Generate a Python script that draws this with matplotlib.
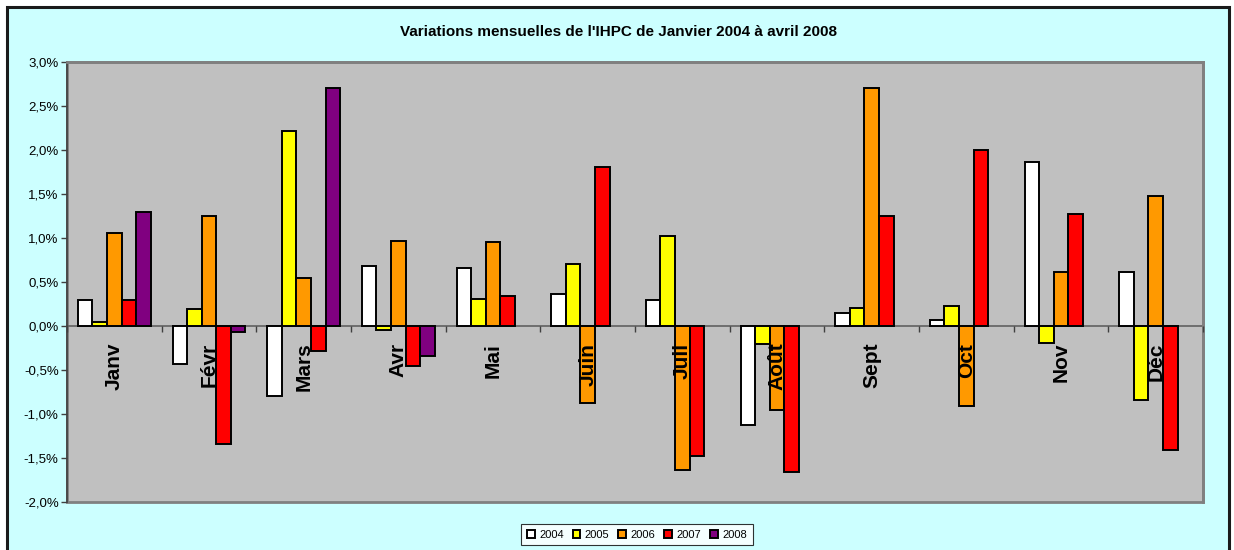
import matplotlib
matplotlib.use("Agg")
import matplotlib.pyplot as plt
import numpy as np
from matplotlib.patches import Rectangle
from matplotlib.ticker import FixedLocator, FuncFormatter

months = ["Janv", "Févr", "Mars", "Avr", "Mai", "Juin", "Juil", "Août",
          "Sept", "Oct", "Nov", "Déc"]
years = ["2004", "2005", "2006", "2007", "2008"]
v2004 = [0.30, -0.43, -0.80, 0.68, 0.66, 0.36, 0.30, -1.12, 0.15, 0.07, 1.86, 0.61]
v2005 = [0.04, 0.19, 2.22, -0.05, 0.31, 0.70, 1.02, -0.21, 0.20, 0.23, -0.19, -0.84]
v2006 = [1.06, 1.25, 0.55, 0.97, 0.95, -0.87, -1.64, -0.96, 2.70, -0.91, 0.61, 1.48]
v2007 = [0.29, -1.34, -0.28, -0.45, 0.34, 1.81, -1.48, -1.66, 1.25, 2.00, 1.27, -1.41]
v2008 = [1.29, -0.07, 2.70, -0.34]
series = [v2004, v2005, v2006, v2007, v2008]
colors = ["#FFFFFF", "#FFFF00", "#FF9900", "#FF0000", "#800080"]
title = "Variations mensuelles de l'IHPC de Janvier 2004 à avril 2008"

plt.rcParams['font.family'] = ['Liberation Sans', 'DejaVu Sans']

fig = plt.figure(figsize=(12.34, 5.5), dpi=100, facecolor="white")
W, H = 1234, 550
bg = Rectangle((7 / W, -0.05), (1229 - 7) / W, 1.05 - 7 / H, transform=fig.transFigure,
               facecolor="#CCFFFF", edgecolor="#1a1a1a", linewidth=2.2, zorder=-10)
fig.patches.append(bg)

ax = fig.add_axes([67 / W, 1 - 502 / H, (1203 - 67) / W, (502 - 62) / H])
ax.set_facecolor("#C0C0C0")
for s in ["top", "right"]:
    ax.spines[s].set_color("#808080")
    ax.spines[s].set_linewidth(2)
ax.spines["left"].set_color("#404040")
ax.spines["left"].set_linewidth(1.2)
ax.spines["bottom"].set_position(("data", 0))
ax.spines["bottom"].set_color("#606060")
ax.spines["bottom"].set_linewidth(1.2)
ax.spines["bottom"].set_zorder(1.5)

n = len(months)
x = np.arange(n)
w = 1 / (5 + 1.5)
for j, (vals, c, yr) in enumerate(zip(series, colors, years)):
    xs = x[:len(vals)] + (j - 2) * w
    ax.bar(xs, vals, width=w, color=c, edgecolor="black", linewidth=1.4,
           label=yr, zorder=2)

# outer bottom border of plot area
ax.add_patch(Rectangle((0, 0), 1, 1, transform=ax.transAxes, fill=False,
                       edgecolor="#808080", linewidth=2, zorder=1, clip_on=False))

ax.set_xlim(-0.5, n - 0.5)
ax.set_ylim(-2.0, 3.0)
ax.set_yticks(np.arange(-2.0, 3.01, 0.5))
ax.yaxis.set_major_formatter(FuncFormatter(lambda v, p: f"{v:.1f}%".replace(".", ",")))
ax.tick_params(axis="y", direction="out", length=4, width=1, color="#404040",
               labelsize=9.5, pad=2)

ax.xaxis.set_major_locator(FixedLocator(np.arange(n + 1) - 0.5))
ax.xaxis.set_minor_locator(FixedLocator(x))
ax.set_xticklabels([], minor=False)
ax.set_xticklabels(months, minor=True, rotation=90, fontsize=15, fontweight="bold")
ax.tick_params(axis="x", which="major", direction="out", length=4, width=1, color="#404040")
ax.tick_params(axis="x", which="minor", length=0, pad=12)
ax.xaxis.set_zorder(3)

fig.text(618 / W, 1 - 32 / H, title, ha="center", va="center", fontsize=11,
         fontweight="bold")

leg = fig.legend(loc="center", bbox_to_anchor=(637 / W, 1 - 534.5 / H), ncol=5,
                 fontsize=8, frameon=True, fancybox=False, edgecolor="black",
                 handlelength=0.7, handleheight=0.7, handletextpad=0.4,
                 columnspacing=0.8, borderpad=0.5)
leg.get_frame().set_linewidth(0.8)
leg.get_frame().set_facecolor("white")

fig.savefig("out.png", dpi=100, facecolor=fig.get_facecolor())
